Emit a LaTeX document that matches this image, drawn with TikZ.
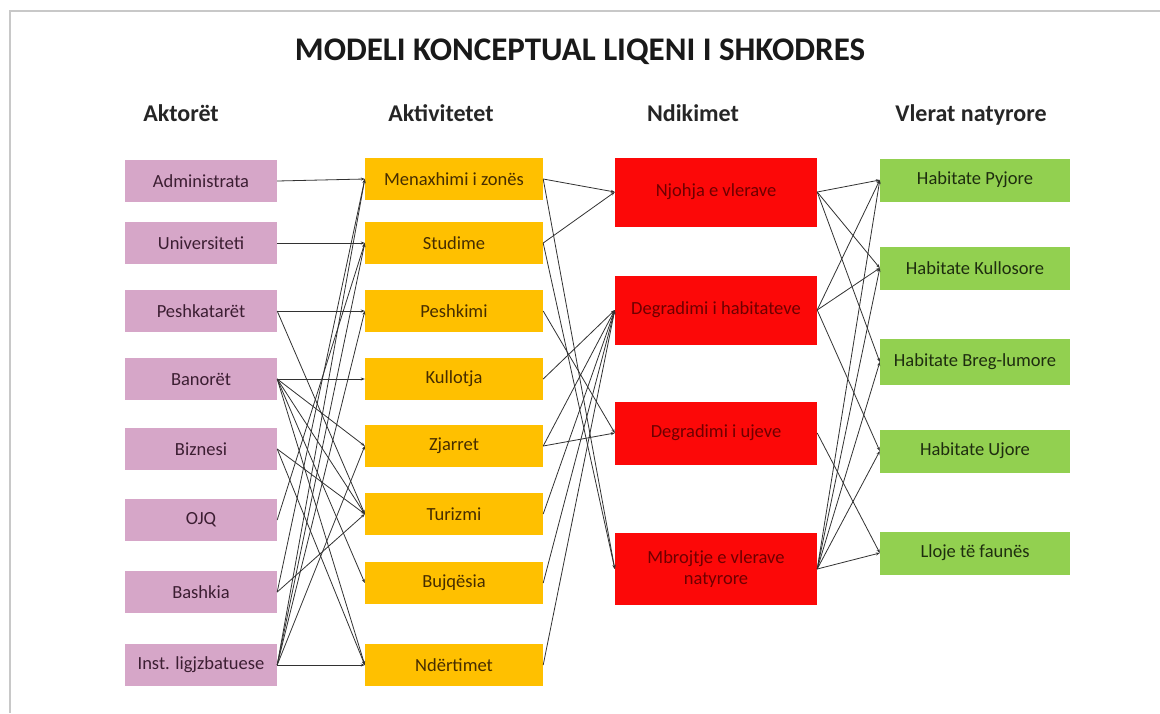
\documentclass[tikz,border=0pt]{standalone}
\usepackage{fontspec}
\setmainfont{Carlito}
\usetikzlibrary{arrows.meta}
\definecolor{pinkbox}{RGB}{214,166,200}
\definecolor{orangebox}{RGB}{255,192,0}
\definecolor{redbox}{RGB}{252,8,8}
\definecolor{greenbox}{RGB}{146,208,80}
\definecolor{pinktext}{RGB}{60,30,50}
\definecolor{orangetext}{RGB}{70,45,0}
\definecolor{redtext}{RGB}{110,0,0}
\definecolor{greentext}{RGB}{30,45,15}
\definecolor{linegray}{RGB}{50,50,50}
\definecolor{framegray}{RGB}{200,200,200}
\begin{document}
\begin{tikzpicture}[x=1pt,y=-1pt,
  base/.style={rectangle, inner sep=0pt, align=center, font=\fontsize{18.5}{21}\selectfont},
  actor/.style={base, fill=pinkbox, minimum width=152pt, minimum height=42pt, text=pinktext},
  activ/.style={base, fill=orangebox, minimum width=178pt, minimum height=42pt, text=orangetext},
  impact/.style={base, fill=redbox, minimum width=202pt, text=redtext},
  value/.style={base, fill=greenbox, minimum width=190pt, minimum height=43pt, text=greentext},
  header/.style={anchor=base, font=\fontsize{24}{26}\selectfont\bfseries, text=black!85},
  conn/.style={draw=linegray, line width=0.8pt, -{Stealth[length=4pt,width=3pt]}}]
\useasboundingbox (0,0) rectangle (1160,713);
\fill[white] (0,0) rectangle (1160,713);
\draw[framegray, line width=1.2pt] (10,713) -- (10,11) -- (1160,11);

\node[anchor=base, font=\fontsize{33}{35}\selectfont\bfseries, text=black!90] (title) at (580,60) {MODELI KONCEPTUAL LIQENI I SHKODRES};
\node[header] (h1) at (181,121) {Aktorët};
\node[header] (h2) at (441,121) {Aktivitetet};
\node[header] (h3) at (693,121) {Ndikimet};
\node[header] (h4) at (971,121) {Vlerat natyrore};

% Actors
\node[actor] (a1) at (201,181) {Administrata};
\node[actor] (a2) at (201,243) {Universiteti};
\node[actor] (a3) at (201,311) {Peshkatarët};
\node[actor] (a4) at (201,379) {Banorët};
\node[actor] (a5) at (201,449) {Biznesi};
\node[actor] (a6) at (201,520) {OJQ};
\node[actor] (a7) at (201,592) {Bashkia};
\node[actor] (a8) at (201,665) {Inst. ligjzbatuese};

% Activities
\node[activ] (b1) at (454,179) {Menaxhimi i zonës};
\node[activ] (b2) at (454,243) {Studime};
\node[activ] (b3) at (454,311) {Peshkimi};
\node[activ] (b4) at (454,379) {Kullotja};
\node[activ] (b5) at (454,446) {Zjarret};
\node[activ] (b6) at (454,514) {Turizmi};
\node[activ] (b7) at (454,583) {Bujqësia};
\node[activ] (b8) at (454,665) {Ndërtimet};

% Impacts
\node[impact, minimum height=69pt] (c1) at (716,192) {Njohja e vlerave};
\node[impact, minimum height=69pt] (c2) at (716,310) {Degradimi i habitateve};
\node[impact, minimum height=63pt] (c3) at (716,433) {Degradimi i ujeve};
\node[impact, minimum height=72pt] (c4) at (716,569) {Mbrojtje e vlerave\\natyrore};

% Values
\node[value] (d1) at (975,180) {Habitate Pyjore};
\node[value] (d2) at (975,268) {Habitate Kullosore};
\node[value, minimum height=46pt] (d3) at (975,362) {Habitate Breg-lumore};
\node[value] (d4) at (975,451) {Habitate Ujore};
\node[value] (d5) at (975,553) {Lloje të faunës};

% Actors -> Activities
\draw[conn] (a1.east) -- (b1.west);
\draw[conn] (a2.east) -- (b2.west);
\draw[conn] (a3.east) -- (b3.west);
\draw[conn] (a3.east) -- (b6.west);
\draw[conn] (a4.east) -- (b4.west);
\draw[conn] (a4.east) -- (b5.west);
\draw[conn] (a4.east) -- (b6.west);
\draw[conn] (a4.east) -- (b7.west);
\draw[conn] (a4.east) -- (b8.west);
\draw[conn] (a5.east) -- (b6.west);
\draw[conn] (a5.east) -- (b8.west);
\draw[conn] (a6.east) -- (b2.west);
\draw[conn] (a7.east) -- (b1.west);
\draw[conn] (a7.east) -- (b6.west);
\draw[conn] (a8.east) -- (b1.west);
\draw[conn] (a8.east) -- (b2.west);
\draw[conn] (a8.east) -- (b3.west);
\draw[conn] (a8.east) -- (b5.west);
\draw[conn] (a8.east) -- (b8.west);

% Activities -> Impacts
\draw[conn] (b1.east) -- (c1.west);
\draw[conn] (b1.east) -- (c4.west);
\draw[conn] (b2.east) -- (c1.west);
\draw[conn] (b2.east) -- (c4.west);
\draw[conn] (b3.east) -- (c3.west);
\draw[conn] (b4.east) -- (c2.west);
\draw[conn] (b5.east) -- (c2.west);
\draw[conn] (b5.east) -- (c3.west);
\draw[conn] (b6.east) -- (c2.west);
\draw[conn] (b7.east) -- (c2.west);
\draw[conn] (b8.east) -- (c2.west);

% Impacts -> Values
\draw[conn] (c1.east) -- (d1.west);
\draw[conn] (c1.east) -- (d2.west);
\draw[conn] (c1.east) -- (d3.west);
\draw[conn] (c2.east) -- (d1.west);
\draw[conn] (c2.east) -- (d2.west);
\draw[conn] (c2.east) -- (d4.west);
\draw[conn] (c3.east) -- (d5.west);
\draw[conn] (c4.east) -- (d1.west);
\draw[conn] (c4.east) -- (d2.west);
\draw[conn] (c4.east) -- (d3.west);
\draw[conn] (c4.east) -- (d4.west);
\draw[conn] (c4.east) -- (d5.west);
\end{tikzpicture}
\end{document}
